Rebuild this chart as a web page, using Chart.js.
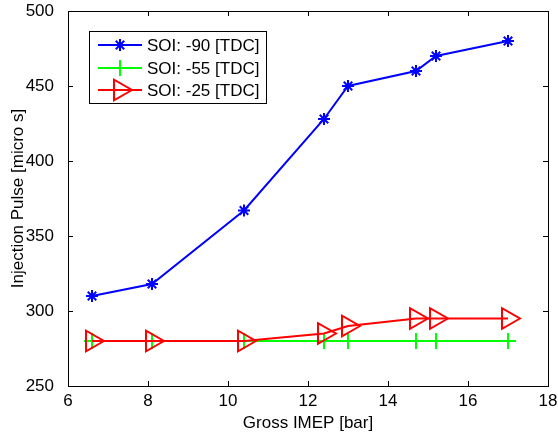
<!DOCTYPE html>
<html>
<head>
<meta charset="utf-8">
<script src="https://cdn.jsdelivr.net/npm/chart.js@4/dist/chart.umd.min.js"></script>
<style>
  html, body { margin: 0; padding: 0; background: #fff; }
  #wrap { width: 558px; height: 434px; }
</style>
</head>
<body>
<div id="wrap"><canvas id="mycanvas" width="558" height="434"></canvas></div>
<script>
// values
var imep = [6.6, 8.1, 10.4, 12.4, 13.0, 14.7, 15.2, 17.0];
var soi90 = [310, 318, 367, 428, 450, 460, 470, 480];
var soi55 = [280, 280, 280, 280, 280, 280, 280, 280];
var soi25 = [280, 280, 280, 285, 290, 295, 295, 295];
var xTicks = [6, 8, 10, 12, 14, 16, 18];
var yTicks = [250, 300, 350, 400, 450, 500];
var seriesNames = ['SOI: -90 [TDC]', 'SOI: -55 [TDC]', 'SOI: -25 [TDC]'];

var FONT = "'Liberation Sans', Arial, sans-serif";

function pts(ys) {
    var out = [];
    for (var i in imep) out.push({x: imep[i], y: ys[i]});
    return out;
}

// box, inside ticks and legend like the matlab figure
var matlabBox = {
    id: 'matlabBox',
    afterDraw: function(chart) {
        var ctx = chart.ctx;
        var a = chart.chartArea;
        var xs = chart.scales.x, ys = chart.scales.y;
        ctx.save();
        ctx.strokeStyle = '#000';
        ctx.lineWidth = 1;
        ctx.strokeRect(a.left + 0.5, a.top + 0.5, a.right - a.left, a.bottom - a.top);
        ctx.beginPath();
        xTicks.forEach(function(v) {
            var px = Math.round(xs.getPixelForValue(v)) + 0.5;
            ctx.moveTo(px, a.bottom); ctx.lineTo(px, a.bottom - 5);
            ctx.moveTo(px, a.top); ctx.lineTo(px, a.top + 5);
        });
        yTicks.forEach(function(v) {
            var py = Math.round(ys.getPixelForValue(v)) + 0.5;
            ctx.moveTo(a.left, py); ctx.lineTo(a.left + 5, py);
            ctx.moveTo(a.right, py); ctx.lineTo(a.right - 5, py);
        });
        ctx.stroke();

        // legend
        var lx = 89.5, ly = 31.5, lw = 177, lh = 72;
        ctx.fillStyle = '#fff';
        ctx.fillRect(lx, ly, lw, lh);
        ctx.strokeRect(lx, ly, lw, lh);
        var rows = [45, 68, 90];
        chart.data.datasets.forEach(function(ds, i) {
            var y = rows[i];
            ctx.strokeStyle = ds.borderColor;
            ctx.lineWidth = ds.borderWidth;
            ctx.beginPath();
            ctx.moveTo(98, y); ctx.lineTo(142, y);
            ctx.stroke();
            ctx.fillStyle = 'rgba(0,0,0,0)';
            Chart.helpers.drawPoint(ctx, {
                pointStyle: ds.pointStyle,
                rotation: ds.pointRotation || 0,
                radius: ds.pointRadius,
                borderWidth: ds.pointBorderWidth
            }, 120, y);
            ctx.fillStyle = '#000';
            ctx.font = '17px ' + FONT;
            ctx.textBaseline = 'middle';
            ctx.textAlign = 'left';
            ctx.fillText(seriesNames[i], 147, y + 1);
        });
        ctx.restore();
    }
};

var ctx = document.getElementById('mycanvas');
var myChart = new Chart(ctx, {
    type: 'line',
    data: {
        datasets: [{
            label: seriesNames[0],
            data: pts(soi90),
            borderColor: '#0000ff',
            backgroundColor: 'transparent',
            borderWidth: 2,
            pointStyle: 'star',
            pointRadius: 6,
            pointBorderWidth: 2,
            pointBorderColor: '#0000ff',
            order: 3
        }, {
            label: seriesNames[1],
            data: pts(soi55),
            borderColor: '#00ff00',
            backgroundColor: 'transparent',
            borderWidth: 2,
            pointStyle: 'cross',
            pointRadius: 8,
            pointBorderWidth: 2,
            pointBorderColor: '#00ff00',
            order: 2
        }, {
            label: seriesNames[2],
            data: pts(soi25),
            borderColor: '#ff0000',
            backgroundColor: 'transparent',
            borderWidth: 2,
            pointStyle: 'triangle',
            pointRotation: 90,
            pointRadius: 12,
            pointBorderWidth: 2,
            pointBorderColor: '#ff0000',
            pointBackgroundColor: 'transparent',
            order: 1
        }]
    },
    options: {
        responsive: false,
        animation: false,
        layout: { autoPadding: false, padding: { top: 11, right: 10, left: 8 } },
        plugins: { legend: { display: false }, tooltip: { enabled: false } },
        scales: {
            x: {
                type: 'linear',
                min: 6, max: 18,
                afterBuildTicks: function(s) { s.ticks = xTicks.map(function(v) { return {value: v}; }); },
                afterFit: function(s) { s.height = 48; s.paddingLeft = 0; s.paddingRight = 0; },
                grid: { display: false },
                border: { display: false },
                ticks: { color: '#000', font: { family: FONT, size: 17 }, padding: -3, maxRotation: 0 },
                title: { display: true, text: 'Gross IMEP [bar]', color: '#000', font: { family: FONT, size: 17 }, padding: { top: 0, bottom: 0 } }
            },
            y: {
                min: 250, max: 500,
                afterBuildTicks: function(s) { s.ticks = yTicks.map(function(v) { return {value: v}; }); },
                afterFit: function(s) { s.width = 60; s.paddingTop = 0; s.paddingBottom = 0; },
                grid: { display: false },
                border: { display: false },
                ticks: { color: '#000', font: { family: FONT, size: 17 }, padding: 6 },
                title: { display: true, text: 'Injection Pulse [micro s]', color: '#000', font: { family: FONT, size: 17 }, padding: { top: 0, bottom: 0 } }
            }
        }
    },
    plugins: [matlabBox]
});
</script>
</body>
</html>
